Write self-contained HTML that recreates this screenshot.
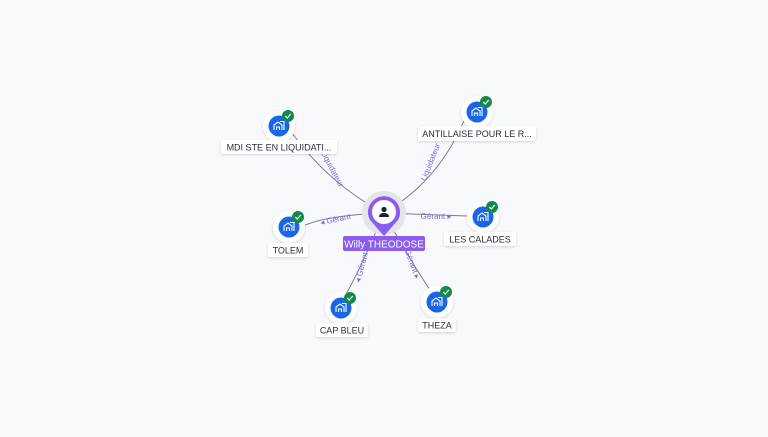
<!DOCTYPE html>
<html><head><style>
body{margin:0;width:768px;height:432px;background:#f8f9fc;overflow:hidden;font-family:"Liberation Sans",sans-serif}
</style></head><body>
<svg width="768" height="432" viewBox="0 0 768 432" xmlns="http://www.w3.org/2000/svg" font-family="Liberation Sans, sans-serif">
<defs>
<filter id="sh" x="-30%" y="-30%" width="160%" height="160%"><feDropShadow dx="0" dy="1" stdDeviation="1.2" flood-color="#000" flood-opacity="0.15"/></filter>
<g id="ent">
<circle r="16" fill="#fff" filter="url(#sh)"/>
<circle r="10.5" fill="#1967e8"/>
<path d="M-5 4 V-1 L-1 -4 L3 -1 V4 M-2.5 4 V1 H0.5 V4 M1 -4.5 H5 V4" fill="none" stroke="#fff" stroke-width="1.1"/>
<circle cx="9" cy="-10" r="6" fill="#13894a"/>
<path d="M6.3 -10 L8.3 -8 L11.7 -12" fill="none" stroke="#fff" stroke-width="1.2"/>
</g>
</defs>
<g fill="none" stroke="#7a7c90" stroke-width="1">
<path d="M384 213 Q330 185 292 133"/>
<path d="M384 213 Q440 180 465 118"/>
<path d="M384 213 Q330 215 305 225"/>
<path d="M384 213 L467 216"/>
<path d="M384 213 Q360 270 346 294"/>
<path d="M384 213 Q410 260 430 290"/>
</g>
<g font-size="8" fill="#7b67e0">
<text transform="translate(330,170) rotate(62)" text-anchor="middle">Liquidateur</text>
<text transform="translate(433,163) rotate(-68)" text-anchor="middle">Liquidateur</text>
<text transform="translate(336,222) rotate(-12)" text-anchor="middle">◂ Gérant</text>
<text transform="translate(436,219)" text-anchor="middle">Gérant ▸</text>
<text transform="translate(364,268) rotate(-75)" text-anchor="middle">◂ Gérant</text>
<text transform="translate(410,265) rotate(70)" text-anchor="middle">Gérant ▸</text>
</g>
<circle cx="384" cy="213" r="22" fill="#e4e5ea"/>
<path d="M370 220 A16 16 0 1 1 398 220 L384 236 Z" fill="#8a5cf0"/>
<circle cx="384" cy="212" r="12" fill="#fff"/>
<circle cx="384" cy="209.5" r="2.6" fill="#1c1f3a"/>
<path d="M379 217 Q379 213 384 213 Q389 213 389 217 Z" fill="#1c1f3a"/>
<rect x="343" y="236" width="82" height="15" rx="2" fill="#8a5cf0"/>
<text x="384" y="247.5" font-size="10" fill="#fff" text-anchor="middle">Willy THEODOSE</text>
<use href="#ent" x="279" y="126"/>
<use href="#ent" x="477" y="112"/>
<use href="#ent" x="289" y="227"/>
<use href="#ent" x="483" y="217"/>
<use href="#ent" x="341" y="308"/>
<use href="#ent" x="437" y="302"/>
<g filter="url(#sh)" fill="#fff">
<rect x="221" y="140" width="116" height="14" rx="2"/>
<rect x="418" y="126" width="118" height="15" rx="2"/>
<rect x="268" y="243" width="40" height="14" rx="2"/>
<rect x="444" y="232" width="72" height="14" rx="2"/>
<rect x="316" y="323" width="52" height="14" rx="2"/>
<rect x="418" y="318" width="38" height="14" rx="2"/>
</g>
<g font-size="9" fill="#2a2d45" text-anchor="middle">
<text x="279" y="150.5">MDI STE EN LIQUIDATI...</text>
<text x="477" y="137">ANTILLAISE POUR LE R...</text>
<text x="288" y="253.5">TOLEM</text>
<text x="480" y="242.5">LES CALADES</text>
<text x="342" y="333.5">CAP BLEU</text>
<text x="437" y="328.5">THEZA</text>
</g>
</svg>
</body></html>
